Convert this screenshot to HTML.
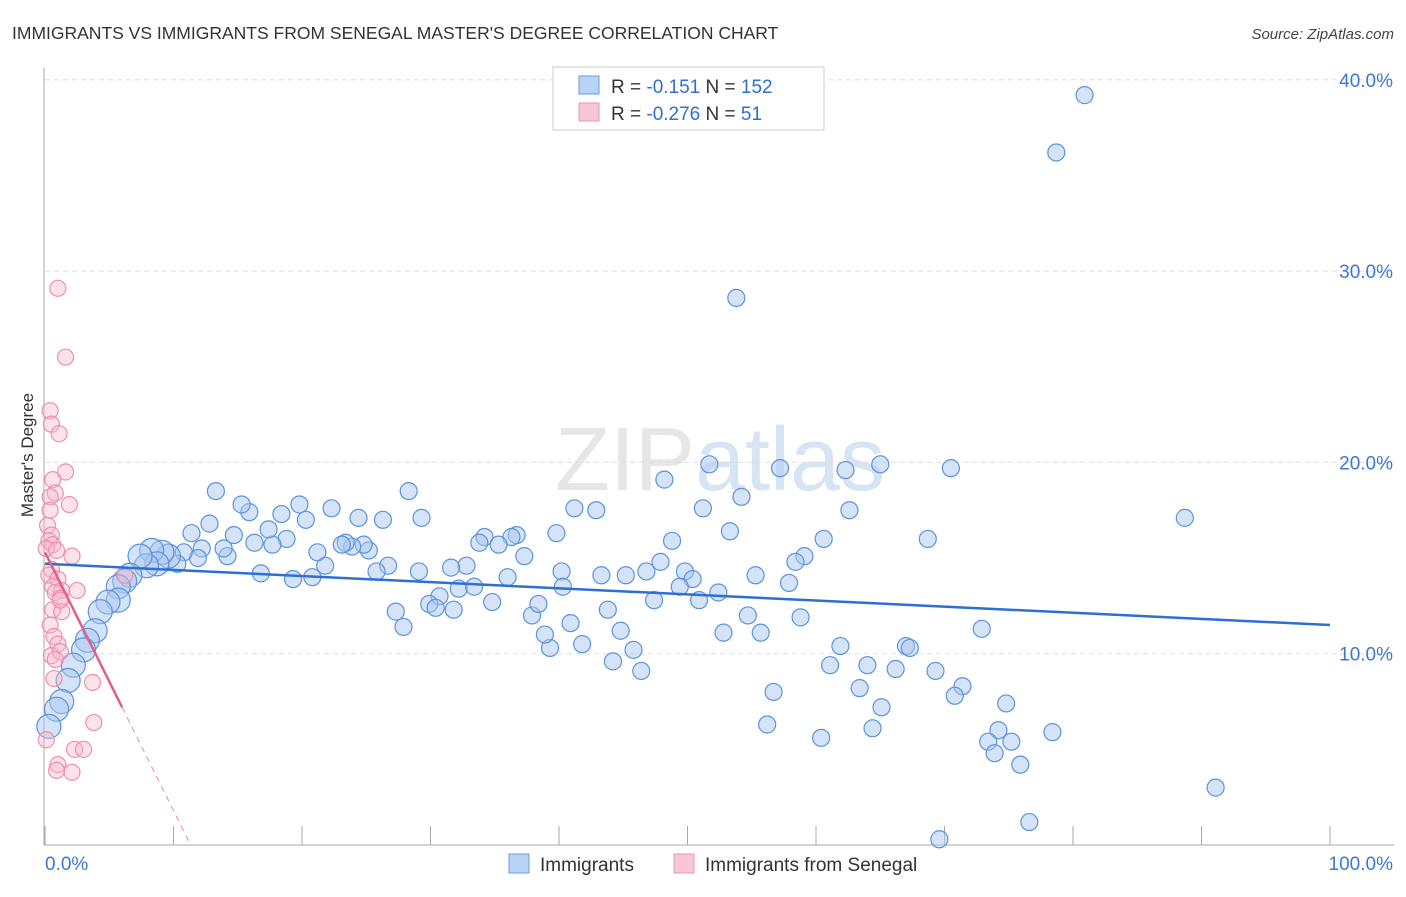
<!DOCTYPE html>
<html><head><meta charset="utf-8"><style>
body{margin:0;background:#fff;font-family:"Liberation Sans",sans-serif}
svg text{font-family:"Liberation Sans",sans-serif}
</style></head><body>
<svg width="1406" height="892" xmlns="http://www.w3.org/2000/svg">
<text x="12" y="39" font-size="17.5" fill="#333">IMMIGRANTS VS IMMIGRANTS FROM SENEGAL MASTER'S DEGREE CORRELATION CHART</text>
<text x="1394" y="39" font-size="15" fill="#444" text-anchor="end" font-style="italic">Source: ZipAtlas.com</text>
<text x="720" y="490" font-size="90" fill="#e6e6e6" text-anchor="middle" font-family="Liberation Serif">ZIP<tspan fill="#d6e4f4" font-family="Liberation Sans">atlas</tspan></text>
<g id="grid"></g><g id="pts"></g><g id="lines"></g>
<text transform="translate(33,455) rotate(-90)" font-size="17" fill="#333" text-anchor="middle">Master's Degree</text>
<g>
<rect x="553" y="67" width="271" height="63" fill="#fff" stroke="#ccc"/>
<rect x="579" y="76" width="20" height="18" fill="#b8d3f5" stroke="#6a9be0"/>
<rect x="579" y="103" width="20" height="18" fill="#f9c6d5" stroke="#ee92ad"/>
<text x="611" y="93" font-size="19" fill="#333">R = <tspan fill="#2f6fcf">-0.151</tspan>   N = <tspan fill="#2f6fcf">152</tspan></text>
<text x="611" y="120" font-size="19" fill="#333">R = <tspan fill="#2f6fcf">-0.276</tspan>   N = <tspan fill="#2f6fcf">  51</tspan></text>
</g>
<g>
<rect x="509" y="854" width="20" height="19" fill="#b8d3f5" stroke="#6a9be0"/>
<text x="540" y="871" font-size="19" fill="#333">Immigrants</text>
<rect x="674" y="854" width="20" height="19" fill="#f9c6d5" stroke="#ee92ad"/>
<text x="705" y="871" font-size="19" fill="#333">Immigrants from Senegal</text>
</g>
</svg>
<script>
const xTicks=[0,10,20,30,40,50,60,70,80,90,100];
const yTicks=[10,20,30,40];
const yTickLabels=["10.0%","20.0%","30.0%","40.0%"];
const xLabels=["0.0%","100.0%"];
const blueX=[80.9,78.7,53.8,88.7,91.1,76.6,69.6,51.7,57.2,62.3,65.0,70.5,48.2,54.2,51.2,62.6,41.2,42.9,53.3,39.8,48.8,60.6,68.7,59.1,58.4,47.9,46.8,49.8,55.3,50.4,57.9,49.4,52.4,50.9,47.4,54.7,58.8,55.7,52.8,72.9,67.0,67.3,61.9,64.0,61.1,66.2,69.3,71.4,70.8,63.4,56.7,65.1,74.8,56.2,64.4,74.2,78.4,60.4,73.4,75.2,73.9,75.9,44.2,46.4,45.8,44.8,43.8,41.8,40.9,39.3,38.9,37.9,38.4,40.2,40.3,43.3,45.2,34.8,36.0,37.3,36.7,36.3,34.2,35.3,33.8,32.8,32.2,33.4,31.6,30.7,31.8,29.9,30.4,27.3,27.9,29.3,28.3,29.1,26.7,25.8,26.3,25.2,24.4,24.8,23.9,23.4,23.1,22.3,21.8,21.2,20.8,19.8,20.3,19.3,18.8,18.4,17.7,17.4,16.3,16.8,15.9,15.3,14.7,14.2,13.9,13.3,12.8,12.2,11.4,11.9,10.8,10.3,9.6,9.1,8.3,8.7,7.9,7.4,6.6,6.2,5.7,5.7,4.9,4.3,3.9,3.3,3.0,2.2,1.8,1.3,0.9,0.3];
const blueY=[39.2,36.2,28.6,17.1,3.0,1.2,0.3,19.9,19.7,19.6,19.9,19.7,19.1,18.2,17.6,17.5,17.6,17.5,16.4,16.3,15.9,16.0,16.0,15.1,14.8,14.8,14.3,14.3,14.1,13.9,13.7,13.5,13.2,12.8,12.8,12.0,11.9,11.1,11.1,11.3,10.4,10.3,10.4,9.4,9.4,9.2,9.1,8.3,7.8,8.2,8.0,7.2,7.4,6.3,6.1,6.0,5.9,5.6,5.4,5.4,4.8,4.2,9.6,9.1,10.2,11.2,12.3,10.5,11.6,10.3,11.0,12.0,12.6,14.3,13.5,14.1,14.1,12.7,14.0,15.1,16.2,16.1,16.1,15.7,15.8,14.6,13.4,13.5,14.5,13.0,12.3,12.6,12.4,12.2,11.4,17.1,18.5,14.3,14.6,14.3,17.0,15.4,17.1,15.7,15.6,15.8,15.7,17.6,14.6,15.3,14.0,17.8,17.0,13.9,16.0,17.3,15.7,16.5,15.8,14.2,17.4,17.8,16.2,15.1,15.5,18.5,16.8,15.5,16.3,15.0,15.3,14.7,15.1,15.3,15.4,14.7,14.6,15.1,14.1,13.8,13.5,12.8,12.7,12.2,11.2,10.7,10.2,9.4,8.6,7.5,7.1,6.2];
const pinkX=[1.0,1.6,0.4,0.5,1.1,1.6,0.6,0.8,0.4,1.9,0.4,0.2,0.5,0.3,0.6,0.1,0.9,2.1,0.5,0.3,1.0,0.6,1.3,0.8,2.5,1.2,0.6,1.3,0.4,0.7,1.0,0.5,1.2,0.8,0.7,3.7,6.2,3.8,2.3,3.0,1.0,0.9,2.1,0.1,1.2];
const pinkY=[29.1,25.5,22.7,22.0,21.5,19.5,19.1,18.4,18.2,17.8,17.5,16.7,16.2,15.9,15.7,15.5,15.4,15.1,14.4,14.1,13.9,13.5,13.3,13.2,13.3,12.9,12.3,12.2,11.5,10.9,10.5,9.9,10.1,9.7,8.7,8.5,14.1,6.4,5.0,5.0,4.2,3.9,3.8,5.5,12.8];
const blueTrend=[14.7,11.5];   // y at x=0 and x=100
const pinkTrend=[15.3,-1.35];  // intercept, slope per %
const pinkSolidEnd=6.0, pinkDashEnd=11.3;

const NS="http://www.w3.org/2000/svg";
const X0=45,X1=1330,Y0=845,YS=19.13;
const sx=v=>X0+(X1-X0)*v/100, sy=v=>Y0-v*YS;
function mk(tag,attrs,parent){const e=document.createElementNS(NS,tag);for(const k in attrs)e.setAttribute(k,attrs[k]);parent.appendChild(e);return e;}
const grid=document.getElementById('grid');
const ax=mk('line',{x1:44,y1:68,x2:44,y2:845,stroke:'#aaa'},grid);


const bx=mk('line',{x1:44,y1:845,x2:1394,y2:845,stroke:'#aaa'},grid);


yTicks.forEach((t,i)=>{
 const g=mk('line',{x1:45,y1:sy(t),x2:1394,y2:sy(t),stroke:'#ddd','stroke-dasharray':'5,4'},grid);
 
 
 const l=mk('text',{x:1393,y:sy(t)+7,'font-size':19,fill:'#3a78d4','text-anchor':'end'},grid);
 l.textContent=yTickLabels[i];
 
 
});
xTicks.forEach(t=>{
 const k=mk('line',{x1:sx(t),y1:826,x2:sx(t),y2:845,stroke:'#aaa'},grid);
 
 
});
[[0,45,'start'],[100,1393,'end']].forEach((d,i)=>{
 const l=mk('text',{x:d[1],y:870,'font-size':19,fill:'#3a78d4','text-anchor':d[2]},grid);
 l.textContent=xLabels[i];
 
 
});
const pts=document.getElementById('pts');
blueX.forEach((v,i)=>{
 const c=mk('circle',{cx:sx(v),cy:sy(blueY[i]),r:v<10?12:8.5,fill:'#a9c8f0','fill-opacity':0.5,stroke:'#5b93de','stroke-width':1.2},pts);
 
 
});
pinkX.forEach((v,i)=>{
 const c=mk('circle',{cx:sx(v),cy:sy(pinkY[i]),r:8,fill:'#f7b8cb','fill-opacity':0.4,stroke:'#ee8fab','stroke-width':1.2},pts);
 
 
});
const lines=document.getElementById('lines');
const bl=mk('line',{x1:sx(0),y1:sy(blueTrend[0]),x2:sx(100),y2:sy(blueTrend[1]),stroke:'#2d6fd2','stroke-width':2.5},lines);


const pf=x=>pinkTrend[0]+pinkTrend[1]*x;
const pl=mk('line',{x1:sx(0),y1:sy(pf(0)),x2:sx(pinkSolidEnd),y2:sy(pf(pinkSolidEnd)),stroke:'#e0608a','stroke-width':2.5},lines);


const pd=mk('line',{x1:sx(pinkSolidEnd),y1:sy(pf(pinkSolidEnd)),x2:sx(pinkDashEnd),y2:sy(pf(pinkDashEnd)),stroke:'#e88aa8','stroke-width':1,'stroke-dasharray':'6,5'},lines);


</script>
</body></html>
